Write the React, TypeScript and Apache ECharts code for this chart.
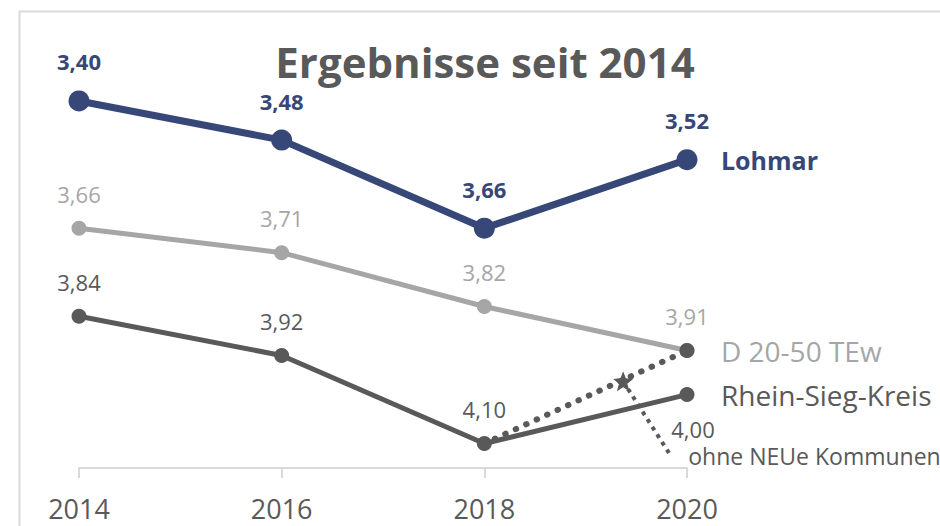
import React, { useEffect, useRef } from "react";
import * as echarts from "echarts";

const years = [2014, 2016, 2018, 2020];
const lohmar = [3.4, 3.48, 3.66, 3.52];
const dTew = [3.66, 3.71, 3.82, 3.91];
const rsk = [3.84, 3.92, 4.1, 4.0];
const ohneYears = [2018, 2020];
const ohneValues = [4.1, 3.91];
const starPoint = [2019.37, 3.973];
const leaderEnd = [2019.84, 4.125];
const seriesNames = ["Lohmar", "D 20-50 TEw", "Rhein-Sieg-Kreis", "ohne NEUe Kommunen"];

const FONT = "'Open Sans', sans-serif";
const NAVY = "#364778";
const LIGHT = "#a6a6a6";
const DARK = "#595959";

const fmt = (v: number) => v.toFixed(2).replace(".", ",");
const STAR =
  "path://M50,0 L63,32 L98,35 L70,58 L80,93 L50,74 L20,93 L30,58 L2,35 L37,32 Z";

export default function App() {
  const ref = useRef<HTMLDivElement>(null);
  useEffect(() => {
    const chart = echarts.init(ref.current!, null, { renderer: "svg" });
    const mk = (vals: number[], overrides: Record<number, any> = {}) =>
      vals.map((v, i) => {
        const item: any = { value: [years[i], v] };
        if (overrides[i]) item.label = overrides[i];
        return item;
      });
    chart.setOption({
      animation: false,
      backgroundColor: "#ffffff",
      title: {
        text: "Ergebnisse seit 2014",
        left: 480,
        textAlign: "center",
        top: 35,
        textStyle: { fontFamily: FONT, fontSize: 42, fontWeight: "bold", color: DARK },
      },
      graphic: [
        {
          type: "rect",
          left: 17,
          top: 9,
          shape: { width: 960, height: 560 },
          style: { fill: "none", stroke: "#d9d9d9", lineWidth: 2 },
          z: -10,
        },
      ],
      grid: { left: 79, right: 253, top: 52, bottom: 58 },
      xAxis: {
        type: "value",
        min: 2014,
        max: 2020,
        interval: 2,
        splitLine: { show: false },
        axisLine: { show: true, lineStyle: { color: "#d9d9d9", width: 2 } },
        axisTick: { show: true, length: 10, lineStyle: { color: "#d9d9d9", width: 2 } },
        axisLabel: {
          formatter: (v: number) => String(v),
          fontFamily: FONT,
          fontSize: 27,
          color: DARK,
          margin: 27,
        },
      },
      yAxis: {
        type: "value",
        inverse: true,
        min: 3.3,
        max: 4.15,
        show: false,
        splitLine: { show: false },
      },
      series: [
        {
          name: seriesNames[1],
          type: "line",
          data: mk(dTew),
          symbol: "circle",
          symbolSize: 15,
          itemStyle: { color: LIGHT },
          lineStyle: { color: LIGHT, width: 5 },
          label: {
            show: true,
            position: "top",
            distance: 16,
            formatter: (p: any) => fmt(p.value[1]),
            fontFamily: FONT,
            fontSize: 22,
            color: LIGHT,
          },
          endLabel: {
            show: true,
            formatter: "{a}",
            distance: 34,
            fontFamily: FONT,
            fontSize: 28,
            color: LIGHT,
          },
          z: 2,
        },
        {
          name: seriesNames[2],
          type: "line",
          data: mk(rsk, { 3: { position: "bottom", offset: [6, 0] } }),
          symbol: "circle",
          symbolSize: 15,
          itemStyle: { color: DARK },
          lineStyle: { color: DARK, width: 5 },
          label: {
            show: true,
            position: "top",
            distance: 16,
            formatter: (p: any) => fmt(p.value[1]),
            fontFamily: FONT,
            fontSize: 22,
            color: DARK,
          },
          endLabel: {
            show: true,
            formatter: "{a}",
            distance: 34,
            fontFamily: FONT,
            fontSize: 28,
            color: DARK,
          },
          z: 3,
        },
        {
          name: seriesNames[0],
          type: "line",
          data: mk(lohmar),
          symbol: "circle",
          symbolSize: 21,
          itemStyle: { color: NAVY },
          lineStyle: { color: NAVY, width: 7 },
          label: {
            show: true,
            position: "top",
            distance: 18,
            formatter: (p: any) => fmt(p.value[1]),
            fontFamily: FONT,
            fontSize: 22,
            fontWeight: "bold",
            color: NAVY,
          },
          endLabel: {
            show: true,
            formatter: "{a}",
            distance: 34,
            fontFamily: FONT,
            fontSize: 25,
            fontWeight: "bold",
            color: NAVY,
          },
          z: 4,
        },
        {
          name: seriesNames[3],
          type: "line",
          data: ohneYears.map((y, i) => ({
            value: [y, ohneValues[i]],
            symbol: i === 0 ? "none" : "circle",
          })),
          symbol: "circle",
          symbolSize: 15,
          itemStyle: { color: DARK },
          lineStyle: { color: DARK, width: 6, type: [0.5, 11], cap: "round" },
          z: 5,
          markLine: {
            silent: true,
            symbol: ["none", "none"],
            label: { show: false },
            lineStyle: { color: DARK, width: 4, type: [4, 5], cap: "butt" },
            data: [[{ coord: starPoint }, { coord: leaderEnd }]],
          },
          markPoint: {
            silent: true,
            data: [
              {
                coord: starPoint,
                symbol: STAR,
                symbolSize: 20,
                itemStyle: { color: DARK },
                label: { show: false },
              },
              {
                coord: leaderEnd,
                symbol: "circle",
                symbolSize: 1,
                itemStyle: { color: "rgba(0,0,0,0)" },
                label: {
                  show: true,
                  position: "right",
                  distance: 17,
                  formatter: seriesNames[3],
                  fontFamily: FONT,
                  fontSize: 23,
                  color: DARK,
                },
              },
            ],
          },
        },
      ],
    });
    return () => chart.dispose();
  }, []);
  return (
    <div
      ref={ref}
      style={{ position: "fixed", left: 0, top: 0, width: 940, height: 526 }}
    />
  );
}
